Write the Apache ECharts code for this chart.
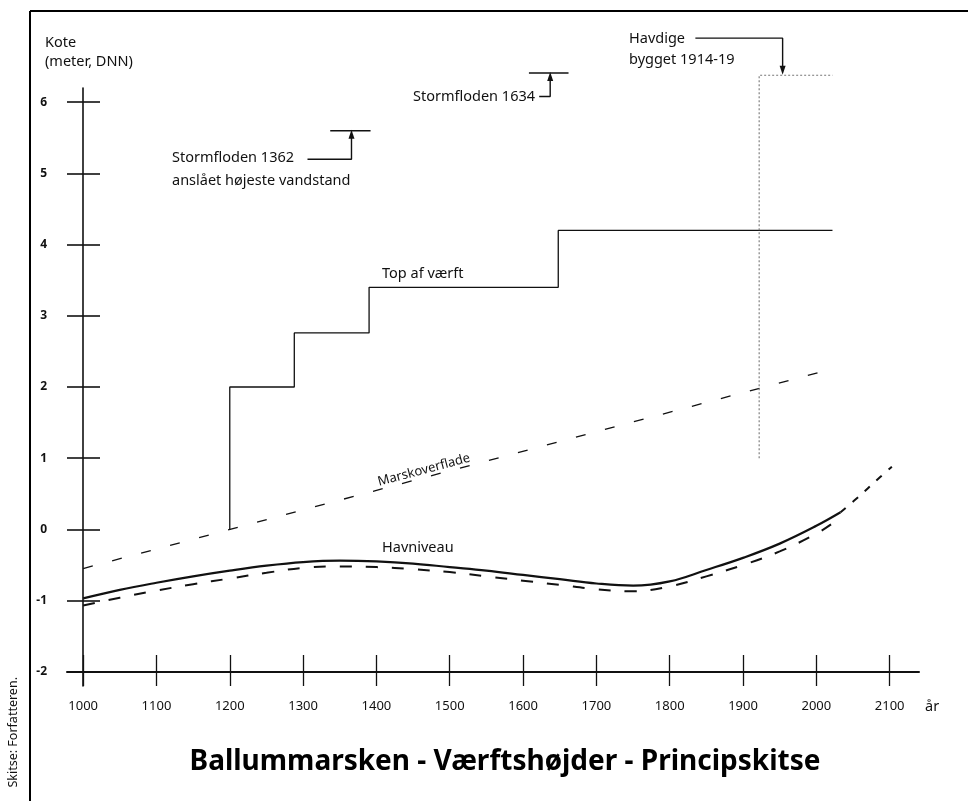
<!DOCTYPE html>
<html>
<head>
<meta charset="utf-8">
<script src="https://cdn.jsdelivr.net/npm/echarts@6/dist/echarts.min.js"></script>
<style>
  html, body { margin: 0; padding: 0; background: #fff; }
  #chart { width: 968px; height: 801px; }
</style>
</head>
<body>
<div id="chart"></div>
<script>
// tick values
const yearTicks = [1000, 1100, 1200, 1300, 1400, 1500, 1600, 1700, 1800, 1900, 2000, 2100];
const koteTicks = [-2, -1, 0, 1, 2, 3, 4, 5, 6];

// Havniveau (solid) and the lower dashed curve
const havYears = [1000, 1050, 1100, 1150, 1200, 1250, 1300, 1350, 1400, 1450, 1500, 1550, 1600, 1650, 1700, 1750, 1800, 1850, 1900, 1950, 2000, 2033];
const havLevel = [-0.97, -0.85, -0.75, -0.66, -0.58, -0.51, -0.46, -0.44, -0.45, -0.48, -0.53, -0.58, -0.64, -0.70, -0.76, -0.79, -0.73, -0.57, -0.40, -0.20, 0.05, 0.24];
const projYears = [2033, 2060, 2080, 2103];
const projLevel = [0.24, 0.48, 0.67, 0.88];
const lowYears = [1000, 1050, 1100, 1150, 1200, 1250, 1300, 1350, 1400, 1450, 1500, 1550, 1600, 1650, 1700, 1750, 1800, 1850, 1900, 1950, 2000, 2020];
const lowLevel = [-1.07, -0.96, -0.86, -0.77, -0.69, -0.61, -0.54, -0.52, -0.53, -0.56, -0.60, -0.66, -0.72, -0.78, -0.84, -0.87, -0.80, -0.66, -0.50, -0.31, -0.06, 0.07];

// Marskoverflade (straight)
const marskYears = [1000, 2020];
const marskLevel = [-0.55, 2.25];

// Top af værft (steps)
const stepYears = [1200, 1288, 1390, 1648];
const stepLevel = [2.0, 2.76, 3.4, 4.2];
const stepEnd = 2022;

// Havdige
const digeYears = [1922, 1922, 2022];
const digeLevel = [1.0, 6.38, 6.38];

// storm floods: level segment + arrow leader
const storm1362Years = [1337, 1392];
const storm1362Level = [5.6, 5.6];
const storm1634Years = [1608, 1662];
const storm1634Level = [6.41, 6.41];
const arrow1362Years = [1306, 1366, 1366];
const arrow1362Level = [5.2, 5.2, 5.55];
const arrow1634Years = [1622, 1637, 1637];
const arrow1634Level = [6.08, 6.08, 6.36];
const arrowDigeYears = [1835, 1954, 1954];
const arrowDigeLevel = [6.9, 6.9, 6.45];

const zip = (xs, ys) => xs.map((x, i) => [x, ys[i]]);

const stepData = [[stepYears[0], 0]];
stepYears.forEach((x, i) => {
  stepData.push([x, stepLevel[i]]);
  stepData.push([i + 1 < stepYears.length ? stepYears[i + 1] : stepEnd, stepLevel[i]]);
});

const FONT = 'Noto Sans';
const ink = '#111';

function arrowSeries(xs, ys, down) {
  const data = zip(xs, ys).map((p, i) => {
    if (i < xs.length - 1) return { value: p, symbol: 'none' };
    return { value: p, symbol: 'triangle', symbolSize: [6, 9], symbolRotate: down ? 180 : 0 };
  });
  return {
    type: 'line', data, showSymbol: true, clip: false, silent: true,
    lineStyle: { color: ink, width: 1.4 }, itemStyle: { color: ink }
  };
}

function plain(data, style, extra) {
  return Object.assign({
    type: 'line', data, symbol: 'none', clip: false, silent: true,
    lineStyle: style
  }, extra || {});
}

function txt(text, x, y) {
  return {
    type: 'text', x, y,
    style: { text, fill: ink, font: '14.5px "Noto Sans"', textAlign: 'left', textVerticalAlign: 'middle', align: 'left', verticalAlign: 'middle' }
  };
}

const chart = echarts.init(document.getElementById('chart'), null, { renderer: 'canvas' });

const xBase = {
  type: 'value', min: 978, max: 2140, position: 'bottom', offset: -14,
  splitLine: { show: false }
};
const yBase = {
  type: 'value', min: -2.2, max: 6.2, position: 'left', offset: -16,
  splitLine: { show: false }
};

const option = {
  animation: false,
  backgroundColor: '#fff',
  title: {
    text: 'Ballummarsken - Værftshøjder - Principskitse',
    left: 500, top: 743, textAlign: 'center',
    textStyle: { fontFamily: FONT, fontSize: 28, fontWeight: 'bold', color: '#000' }
  },
  grid: { left: 67, right: 49, top: 88, bottom: 115 },
  xAxis: [
    Object.assign({}, xBase, {
      axisLine: { onZero: false, lineStyle: { color: ink, width: 2 } },
      axisTick: { show: true, length: 14, customValues: yearTicks, lineStyle: { color: ink, width: 1.3 } },
      axisLabel: {
        customValues: yearTicks, margin: 28, color: ink, fontFamily: FONT, fontSize: 13,
        formatter: v => String(v)
      }
    }),
    Object.assign({}, xBase, {
      axisLine: { show: false, onZero: false },
      axisTick: { show: true, inside: true, length: 17, customValues: yearTicks, lineStyle: { color: ink, width: 1.3 } },
      axisLabel: { show: false }
    })
  ],
  yAxis: [
    Object.assign({}, yBase, {
      axisLine: { show: true, onZero: false, lineStyle: { color: ink, width: 1.6 } },
      axisTick: { show: true, length: 16, customValues: koteTicks, lineStyle: { color: ink, width: 1.6 } },
      axisLabel: { customValues: koteTicks, margin: 36, color: ink, fontFamily: FONT, fontSize: 12, fontWeight: 'bold' }
    }),
    Object.assign({}, yBase, {
      axisLine: { show: false, onZero: false },
      axisTick: { show: true, inside: true, length: 17, customValues: koteTicks, lineStyle: { color: ink, width: 1.6 } },
      axisLabel: { show: false }
    })
  ],
  series: [
    plain(zip(marskYears, marskLevel), { color: ink, width: 1.3, type: [10, 20] }),
    plain(stepData, { color: ink, width: 1.3 }),
    plain(zip(digeYears, digeLevel), { color: '#777', width: 1.1, type: [2, 2] }),
    plain(zip(havYears, havLevel), { color: ink, width: 2.2 }, { smooth: 0.4 }),
    plain(zip(projYears, projLevel), { color: ink, width: 2, type: [7, 9] }, { smooth: 0.4 }),
    plain(zip(lowYears, lowLevel), { color: ink, width: 2, type: [12, 14] }, { smooth: 0.4 }),
    plain(zip(storm1362Years, storm1362Level), { color: ink, width: 1.4 }),
    plain(zip(storm1634Years, storm1634Level), { color: ink, width: 1.4 }),
    arrowSeries(arrow1362Years, arrow1362Level, false),
    arrowSeries(arrow1634Years, arrow1634Level, false),
    arrowSeries(arrowDigeYears, arrowDigeLevel, true)
  ],
  graphic: [
    { type: 'line', shape: { x1: 30, y1: 11, x2: 968, y2: 11 }, style: { stroke: '#000', lineWidth: 2 } },
    { type: 'line', shape: { x1: 30, y1: 11, x2: 30, y2: 801 }, style: { stroke: '#000', lineWidth: 2 } },
    txt('Kote', 45, 43),
    txt('(meter, DNN)', 45, 62),
    txt('Stormfloden 1362', 172, 158),
    txt('anslået højeste vandstand', 172, 181),
    txt('Stormfloden 1634', 413, 97),
    txt('Havdige', 629, 39),
    txt('bygget 1914-19', 629, 60),
    txt('Top af værft', 382, 274),
    txt('Havniveau', 382, 548),
    txt('år', 925, 707),
    {
      type: 'text', x: 424, y: 470, rotation: 15 * Math.PI / 180,
      style: { text: 'Marskoverflade', fill: ink, font: '13px "Noto Sans"', textAlign: 'center', textVerticalAlign: 'middle', align: 'center', verticalAlign: 'middle' }
    },
    {
      type: 'text', x: 13, y: 677, rotation: Math.PI / 2,
      style: { text: 'Skitse: Forfatteren.', fill: ink, font: '12.5px "Noto Sans"', textAlign: 'right', textVerticalAlign: 'middle', align: 'right', verticalAlign: 'middle' }
    }
  ]
};

chart.setOption(option);
</script>
</body>
</html>
